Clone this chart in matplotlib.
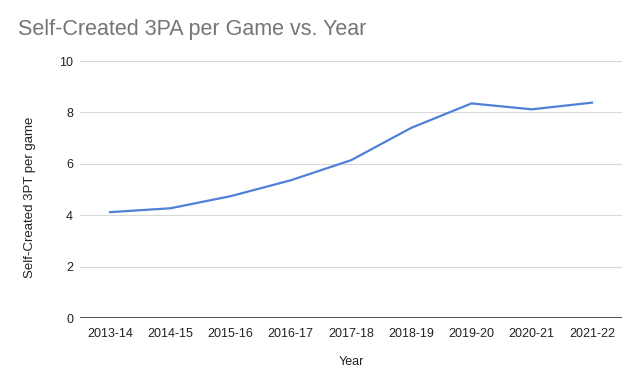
import matplotlib
matplotlib.use("Agg")
import matplotlib.pyplot as plt

plt.rcParams['font.family'] = ['Liberation Sans', 'DejaVu Sans']

seasons = ["2013-14", "2014-15", "2015-16", "2016-17", "2017-18",
           "2018-19", "2019-20", "2020-21", "2021-22"]
self_created_3pa = [4.12, 4.27, 4.74, 5.36, 6.14, 7.40, 8.35, 8.12, 8.38]
y_ticks = [0, 2, 4, 6, 8, 10]

fig = plt.figure(figsize=(6.4, 3.7), dpi=100)
ax = fig.add_axes([0.125, 0.1405, 0.847, 0.6946])

x = list(range(len(seasons)))
ax.plot(x, self_created_3pa, color='#4f81d9', linewidth=1.6, zorder=3)

ax.set_xlim(-0.5, len(seasons) - 0.5)
ax.set_ylim(0, 10)
ax.set_yticks(y_ticks)
ax.set_xticks(x)
ax.set_xticklabels(seasons)
ax.grid(axis='y', color='#d9d9d9', linewidth=0.8)
ax.axhline(0, color='#333333', linewidth=1.2, zorder=4)

for s in ax.spines.values():
    s.set_visible(False)
ax.tick_params(length=0, labelsize=9, colors='#222222')
ax.tick_params(axis='x', pad=7)
ax.tick_params(axis='y', pad=5)

ax.set_xlabel("Year", fontsize=9, color='#222222', labelpad=12)
ax.set_ylabel("Self-Created 3PT per game", fontsize=9.5, color='#222222')
ax.yaxis.set_label_coords(-0.082, 0.47)

fig.text(0.028, 0.92, "Self-Created 3PA per Game vs. Year", fontsize=15.5,
         color='#757575', ha='left', va='center')

fig.savefig("out.png", dpi=100)
